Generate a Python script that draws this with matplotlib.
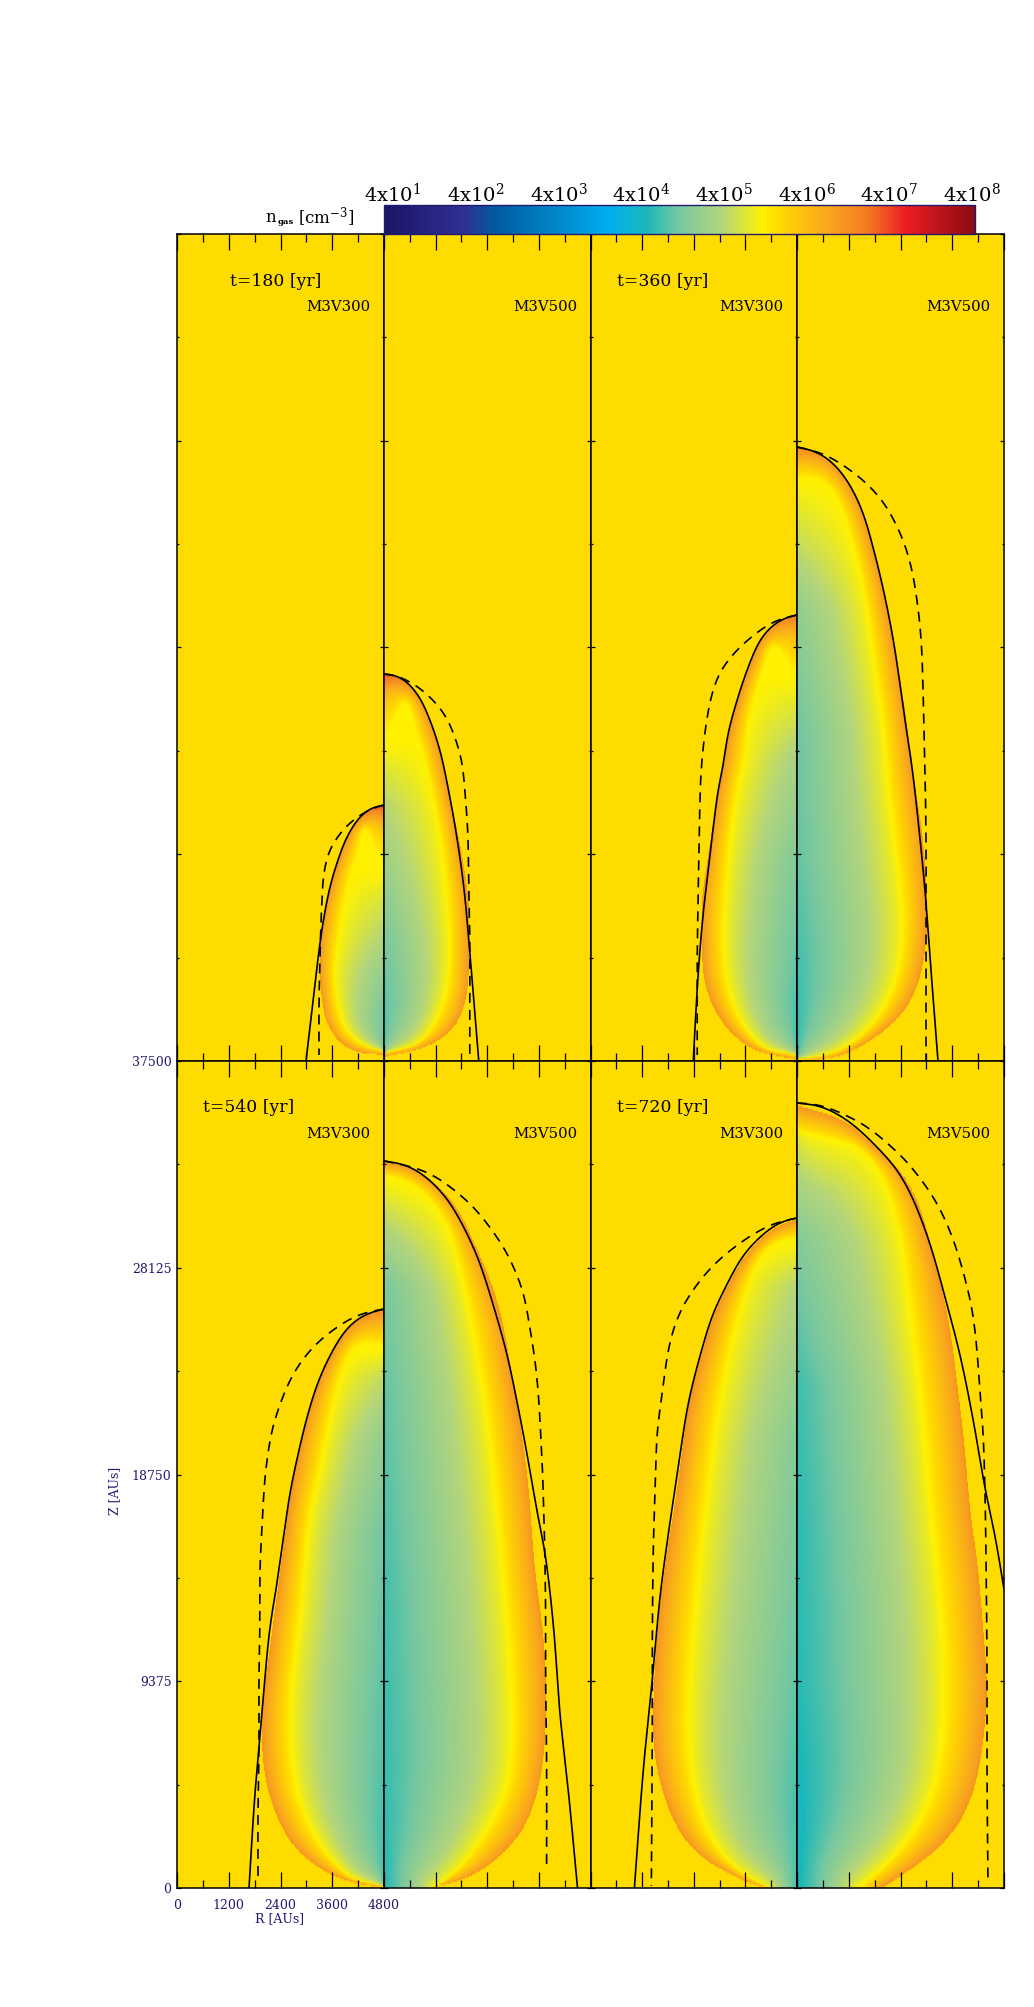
"""
Densite du gaz autour du jet : 4 epoques, 2 modeles par epoque (M3V300 / M3V500)
Chaque demi-panneau : carte de log n + choc analytique (trait plein) + tirets
"""

import numpy as np
import matplotlib
matplotlib.use("Agg")
import matplotlib.pyplot as plt

from matplotlib.cm import ScalarMappable
from matplotlib.colors import LinearSegmentedColormap, Normalize
from matplotlib.path import Path as MplPath
from matplotlib.ticker import FixedFormatter, FixedLocator, NullFormatter

# ---------------------------------------------------------------- config
W, H = 1034, 2007
X_EDGES = [177, 384, 590.5, 797, 1004]
Y_EDGES = [234, 1061, 1888]
R_MAX = 4800.0
Z_MAX = 37500.0
CELL_R = R_MAX / 207.0  # AU par cellule de grille
CELL_Z = Z_MAX / 827.0
NAVY = "#1f1a6e"

plt.rcParams["font.family"] = ["DejaVu Serif"]
plt.rcParams["mathtext.fontset"] = "dejavuserif"

# ---------------------------------------------------------------- palette
CMAP_POS = [0.0, 0.134, 0.19, 0.382, 0.445, 0.50, 0.574, 0.641, 0.67, 0.755, 0.817, 0.885, 1.0]
CMAP_COL = ["#1b1464", "#2e3192", "#005b9f", "#00aeef", "#1cb8b8", "#78c8a0", "#b5d67a",
            "#fff200", "#ffd800", "#f9a51f", "#f47b20", "#ed1c24", "#8a0b10"]
LOG_MIN, LOG_MAX = np.log10(4e1), np.log10(4e8)
LOG_AMBIENT = 6.257
LOG_RIDGE = 6.09
LOG_EDGE = 7.05

CB_TICKS = [1, 2, 3, 4, 5, 6, 7, 8]
CB_LABEL_X = [393, 476, 559, 641, 724, 807, 889, 972]

# ---------------------------------------------------------------- courbes (cellules de grille)
# t=180, M3V300
a_solid_r = [0, 12, 24, 37, 47, 54, 60, 64, 70, 78]
a_solid_z = [256, 253, 244, 224, 198, 174, 144, 118, 68, 0]
a_dash_r = [0, 7, 22, 40, 54, 60, 62, 63, 64, 65, 65]
a_dash_z = [256, 254, 247, 232, 211, 188, 161, 138, 104, 54, 6]
a_outer_r = [0, 12, 24, 37, 47, 54, 59, 63, 64, 62, 57, 45, 27, 0]
a_outer_z = [255, 252, 243, 223, 197, 173, 154, 128, 94, 61, 38, 19, 9, 6]
a_ridge_r = [0, 8, 19, 25, 35, 45, 49, 45, 37, 20, 0]
a_ridge_z = [191, 208, 231, 211, 178, 124, 88, 54, 31, 16, 10]
a_axis_z = [10, 54, 88, 121, 154, 191]
a_axis_n = [4.95, 5.12, 5.32, 5.58, 5.8, 6.09]

# t=180, M3V500
b_solid_r = [0, 11, 23, 36, 46, 56, 66, 73, 80, 85, 90, 95]
b_solid_z = [387, 386, 379, 363, 341, 311, 264, 224, 174, 121, 61, 0]
b_dash_r = [0, 10, 28, 46, 61, 71, 78, 81, 84, 85, 86, 86, 86]
b_dash_z = [387, 386, 378, 364, 346, 324, 299, 271, 228, 174, 121, 54, 4]
b_outer_r = [0, 11, 23, 36, 46, 56, 66, 73, 80, 85, 85, 83, 75, 60, 36, 0]
b_outer_z = [386, 385, 378, 362, 340, 310, 261, 231, 194, 154, 104, 68, 41, 24, 12, 4]
b_ridge_r = [0, 10, 21, 33, 43, 56, 63, 65, 61, 50, 33, 0]
b_ridge_z = [318, 338, 358, 324, 288, 221, 154, 104, 68, 38, 18, 8]
b_axis_z = [8, 54, 121, 188, 254, 288, 318]
b_axis_n = [4.9, 4.95, 5.12, 5.38, 5.62, 5.85, 6.09]

# t=360, M3V300
c_solid_r = [0, 10, 24, 37, 50, 60, 69, 74, 79, 87, 94, 99, 104]
c_solid_z = [446, 444, 436, 421, 391, 361, 328, 296, 271, 208, 148, 88, 0]
c_dash_r = [0, 10, 24, 42, 62, 77, 85, 90, 94, 96, 97, 98, 99, 100, 100, 100]
c_dash_z = [446, 444, 439, 427, 409, 389, 368, 344, 314, 291, 271, 224, 171, 104, 54, 6]
c_outer_r = [0, 10, 24, 37, 50, 60, 69, 80, 89, 96, 96, 94, 85, 70, 44, 0]
c_outer_z = [445, 443, 435, 420, 390, 360, 327, 268, 211, 161, 121, 81, 54, 31, 11, 1]
c_ridge_r = [0, 10, 24, 34, 47, 54, 60, 69, 74, 70, 57, 34, 0]
c_ridge_z = [384, 395, 414, 391, 348, 298, 271, 204, 121, 78, 41, 14, 6]
c_axis_z = [6, 100, 200, 300, 384]
c_axis_n = [4.8, 5.0, 5.15, 5.5, 6.09]

# t=360, M3V500
d_solid_r = [0, 16, 33, 50, 65, 76, 88, 98, 106, 115, 120, 128, 133, 141]
d_solid_z = [614, 611, 601, 581, 551, 514, 464, 411, 354, 294, 251, 171, 104, 0]
d_dash_r = [0, 25, 46, 66, 85, 98, 108, 115, 120, 124, 126, 127, 128, 129, 129, 129]
d_dash_z = [614, 608, 596, 581, 561, 539, 516, 491, 461, 424, 374, 331, 294, 221, 138, 1]
d_outer_r = [0, 16, 33, 50, 65, 76, 88, 106, 116, 126, 130, 128, 118, 100, 70, 40, 0]
d_outer_z = [613, 610, 600, 580, 550, 513, 464, 364, 288, 221, 154, 108, 68, 41, 18, 3, 1]
d_ridge_r = [0, 23, 40, 53, 66, 76, 86, 91, 101, 105, 100, 83, 56, 30, 0]
d_ridge_z = [581, 581, 561, 524, 471, 404, 331, 271, 188, 138, 88, 48, 19, 6, 2]
d_axis_z = [2, 80, 200, 330, 450, 520, 581]
d_axis_n = [4.75, 4.85, 5.0, 5.05, 5.3, 5.75, 6.09]

# t=540, M3V300
e_solid_r = [0, 10, 24, 37, 50, 64, 75, 85, 94, 98, 107, 114, 119, 124, 129, 135]
e_solid_z = [579, 577, 571, 560, 540, 511, 478, 438, 395, 368, 305, 261, 211, 151, 95, 0]
e_dash_r = [0, 24, 44, 67, 84, 95, 105, 112, 116, 119, 121, 122, 124, 124, 125, 125, 126, 126]
e_dash_z = [579, 574, 563, 545, 525, 506, 481, 458, 435, 411, 381, 361, 321, 271, 218, 145, 78, 10]
e_outer_r = [0, 10, 24, 37, 50, 64, 75, 85, 92, 100, 109, 117, 122, 120, 110, 90, 57, 24, 0]
e_outer_z = [578, 576, 570, 559, 539, 510, 477, 438, 401, 345, 278, 218, 171, 118, 78, 41, 15, 3, 1]
e_ridge_r = [0, 20, 30, 44, 55, 64, 74, 82, 92, 92, 84, 64, 34, 0]
e_ridge_z = [540, 545, 540, 508, 461, 415, 368, 285, 195, 138, 88, 45, 11, 2]
e_axis_z = [2, 100, 250, 350, 450, 510, 540]
e_axis_n = [4.82, 4.92, 5.0, 5.05, 5.3, 5.7, 6.09]

# t=540, M3V500
f_solid_r = [0, 13, 30, 46, 63, 80, 95, 108, 123, 135, 143, 155, 161, 170, 176, 185, 194]
f_solid_z = [727, 726, 720, 708, 690, 661, 628, 588, 535, 478, 436, 368, 338, 261, 178, 95, 0]
f_dash_r = [0, 33, 53, 73, 91, 106, 120, 130, 140, 146, 151, 155, 157, 159, 160, 161, 162, 162, 163, 163]
f_dash_z = [727, 720, 711, 696, 680, 661, 641, 621, 595, 561, 531, 491, 455, 415, 381, 345, 278, 211, 128, 18]
f_outer_r = [0, 30, 46, 70, 90, 113, 131, 143, 151, 160, 162, 158, 143, 116, 80, 43]
f_outer_z = [726, 720, 708, 685, 645, 588, 495, 415, 318, 245, 178, 118, 65, 31, 8, 0]
f_ridge_r = [0, 23, 43, 63, 76, 90, 103, 110, 120, 126, 128, 120, 96, 70, 50]
f_ridge_z = [711, 706, 691, 661, 615, 548, 465, 401, 295, 211, 151, 95, 48, 15, 0]
f_axis_z = [0, 100, 300, 500, 600, 660, 711]
f_axis_n = [4.72, 4.82, 4.88, 5.0, 5.1, 5.6, 6.09]

# t=720, M3V300
g_solid_r = [0, 14, 34, 54, 70, 84, 97, 109, 117, 127, 137, 145, 154, 163]
g_solid_z = [670, 668, 654, 633, 604, 575, 533, 485, 435, 368, 294, 209, 119, 0]
g_dash_r = [0, 20, 44, 64, 84, 100, 114, 124, 130, 135, 140, 142, 144, 145, 145, 146]
g_dash_z = [670, 666, 654, 640, 623, 604, 583, 559, 533, 495, 458, 405, 342, 252, 172, 2]
g_outer_r = [0, 14, 34, 54, 70, 84, 97, 109, 117, 124, 132, 140, 144, 144, 135, 120, 97, 70, 40, 30]
g_outer_z = [668, 666, 652, 631, 602, 573, 531, 485, 427, 378, 328, 261, 201, 138, 95, 58, 31, 15, 1, 0]
g_ridge_r = [0, 20, 37, 52, 67, 80, 92, 99, 105, 109, 102, 87, 64, 29]
g_ridge_z = [649, 646, 631, 596, 538, 469, 378, 311, 245, 161, 95, 51, 21, 0]
g_axis_z = [0, 100, 200, 450, 600, 649]
g_axis_n = [4.85, 4.9, 5.0, 5.2, 5.6, 6.09]

# t=720, M3V500
h_solid_r = [0, 23, 50, 76, 100, 116, 133, 148, 163, 176, 188, 198, 207]
h_solid_z = [785, 782, 768, 745, 718, 689, 644, 591, 533, 469, 400, 352, 299]
h_dash_r = [0, 23, 46, 70, 90, 106, 123, 136, 148, 158, 166, 175, 180, 183, 186, 188, 189, 190, 190, 191]
h_dash_z = [785, 784, 774, 762, 745, 731, 710, 692, 669, 644, 617, 580, 538, 495, 458, 395, 331, 225, 119, 5]
h_outer_r = [0, 50, 76, 103, 123, 136, 151, 160, 168, 173, 180, 186, 190, 186, 178, 163, 140, 113, 86]
h_outer_z = [782, 766, 742, 718, 681, 633, 570, 506, 437, 378, 328, 261, 201, 145, 101, 65, 38, 18, 0]
h_ridge_r = [0, 36, 63, 86, 103, 113, 123, 133, 140, 145, 145, 136, 116, 90, 60]
h_ridge_z = [755, 747, 739, 707, 649, 570, 490, 378, 311, 245, 161, 101, 58, 25, 0]
h_axis_z = [0, 60, 200, 370, 500, 650, 700, 755]
h_axis_n = [4.65, 4.62, 4.75, 4.78, 4.85, 5.2, 5.5, 5.9]

# renforcement de densite a l'apex : log n au sommet, hauteur de la zone (cellules)
tip_log = [7.6, 7.6, 7.35, 7.25, 7.15, 7.05, 7.05, 7.05]
tip_depth = [70, 70, 60, 60, 40, 40, 40, 40]
TIP_WIDTH = 28.0
# lissage du pic : faible la ou il forme un chevron
ridge_sigma = [2, 2, 3, 9, 7, 10, 10, 10]

TIMES = ["t=180 [yr]", "t=360 [yr]", "t=540 [yr]", "t=720 [yr]"]
TIME_LABEL_X = [230, 617, 203, 617]
MODELS = ["M3V300", "M3V500"]

panels = [
    (a_solid_r, a_solid_z, a_dash_r, a_dash_z, a_outer_r, a_outer_z, a_ridge_r, a_ridge_z, a_axis_z, a_axis_n),
    (b_solid_r, b_solid_z, b_dash_r, b_dash_z, b_outer_r, b_outer_z, b_ridge_r, b_ridge_z, b_axis_z, b_axis_n),
    (c_solid_r, c_solid_z, c_dash_r, c_dash_z, c_outer_r, c_outer_z, c_ridge_r, c_ridge_z, c_axis_z, c_axis_n),
    (d_solid_r, d_solid_z, d_dash_r, d_dash_z, d_outer_r, d_outer_z, d_ridge_r, d_ridge_z, d_axis_z, d_axis_n),
    (e_solid_r, e_solid_z, e_dash_r, e_dash_z, e_outer_r, e_outer_z, e_ridge_r, e_ridge_z, e_axis_z, e_axis_n),
    (f_solid_r, f_solid_z, f_dash_r, f_dash_z, f_outer_r, f_outer_z, f_ridge_r, f_ridge_z, f_axis_z, f_axis_n),
    (g_solid_r, g_solid_z, g_dash_r, g_dash_z, g_outer_r, g_outer_z, g_ridge_r, g_ridge_z, g_axis_z, g_axis_n),
    (h_solid_r, h_solid_z, h_dash_r, h_dash_z, h_outer_r, h_outer_z, h_ridge_r, h_ridge_z, h_axis_z, h_axis_n),
]


# ---------------------------------------------------------------- geometrie
def spline(r, z, n=8):
    """Catmull-Rom centripete passant par les points lus."""
    p = np.column_stack([r, z]).astype(float)
    p = np.vstack([2 * p[0] - p[1], p, 2 * p[-1] - p[-2]])
    out = [p[1:2]]
    for i in range(1, len(p) - 2):
        p0, p1, p2, p3 = p[i - 1], p[i], p[i + 1], p[i + 2]
        t1 = np.linalg.norm(p1 - p0) ** 0.5
        t2 = t1 + np.linalg.norm(p2 - p1) ** 0.5
        t3 = t2 + np.linalg.norm(p3 - p2) ** 0.5
        t = np.linspace(t1, t2, n + 1)[1:][:, None]
        a1 = (t1 - t) / t1 * p0 + t / t1 * p1
        a2 = (t2 - t) / (t2 - t1) * p1 + (t - t1) / (t2 - t1) * p2
        a3 = (t3 - t) / (t3 - t2) * p2 + (t - t2) / (t3 - t2) * p3
        b1 = (t2 - t) / t2 * a1 + t / t2 * a2
        b2 = (t3 - t) / (t3 - t1) * a2 + (t - t1) / (t3 - t1) * a3
        out.append((t2 - t) / (t2 - t1) * b1 + (t - t1) / (t2 - t1) * b2)
    return np.vstack(out)


def smooth(r, z, sigma=None):
    """Spline puis filtre gaussien le long de l'arc, extremites conservees."""
    p = spline(r, z)
    s = np.r_[0, np.cumsum(np.hypot(*np.diff(p, axis=0).T))]
    t = np.r_[np.arange(0, s[-1], 1.0), s[-1]]
    line = np.column_stack([np.interp(t, s, p[:, 0]), np.interp(t, s, p[:, 1])])
    if sigma is None:
        sigma = 0.016 * s[-1]  # proportionnel a la taille du lobe

    half = min(int(3 * sigma) + 1, len(line) - 2)
    kernel = np.exp(-0.5 * (np.arange(-half, half + 1) / sigma) ** 2)
    kernel /= kernel.sum()
    head = 2 * line[0] - line[half:0:-1]
    tail = 2 * line[-1] - line[-2:-half - 2:-1]
    padded = np.vstack([head, line, tail])
    return np.column_stack([np.convolve(padded[:, i], kernel, mode="valid") for i in range(2)])


def closed_on_axis(curve):
    """Ferme la courbe le long de l'axe (et de la base si elle y arrive)."""
    foot_z = 0.0 if curve[-1, 0] > 1 else curve[-1, 1]
    return np.vstack([curve, [[0.0, foot_z]], [[0.0, curve[0, 1]]]])


def dist_to(points, curve):
    d = np.empty(len(points))
    for i in range(0, len(points), 4000):
        chunk = points[i:i + 4000]
        dx = chunk[:, 0, None] - curve[:, 0]
        dy = chunk[:, 1, None] - curve[:, 1]
        d[i:i + 4000] = np.sqrt((dx ** 2 + dy ** 2).min(axis=1))
    return d


def density_map(outer_r, outer_z, ridge_r, ridge_z, axis_z, axis_n, tip, depth, sigma):
    """Carte de log n : pic (ridge), coquille vers l'exterieur, creux vers l'axe."""
    rc = np.arange(0.5, 207, 1.0)
    zc = np.arange(0.5, 827, 1.5)
    rr, zz = np.meshgrid(rc, zc)
    pts = np.column_stack([rr.ravel(), zz.ravel()])
    field = np.full(len(pts), LOG_AMBIENT)

    outer = smooth(outer_r, outer_z)
    ridge = smooth(ridge_r, ridge_z, sigma=sigma)
    in_outer = MplPath(closed_on_axis(outer)).contains_points(pts)
    in_ridge = MplPath(closed_on_axis(ridge)).contains_points(pts) & in_outer
    shell = in_outer & ~in_ridge

    # coquille entre le pic et le bord du choc
    p = pts[shell]
    d_r, d_o = dist_to(p, ridge), dist_to(p, outer)
    top = outer_z[0]
    boost = np.clip((p[:, 1] - (top - depth)) / depth, 0, 1) * np.clip(1 - p[:, 0] / TIP_WIDTH, 0, 1)
    edge = LOG_EDGE + (tip - LOG_EDGE) * boost
    field[shell] = LOG_RIDGE + (edge - LOG_RIDGE) * (d_r / (d_r + d_o + 1e-6)) ** 1.1

    # cavite : du pic jusqu'a la valeur sur l'axe
    p = pts[in_ridge]
    d_r = dist_to(p, ridge)
    on_axis = np.interp(p[:, 1], axis_z, axis_n)
    field[in_ridge] = LOG_RIDGE + (on_axis - LOG_RIDGE) * (d_r / (d_r + p[:, 0] + 1e-6)) ** 0.75
    return field.reshape(rr.shape)


# ---------------------------------------------------------------- trace
def setup_axes(ax):
    ax.set_xlim(0, R_MAX)
    ax.set_ylim(0, Z_MAX)
    ax.xaxis.set_major_locator(FixedLocator([0, 1200, 2400, 3600, 4800]))
    ax.xaxis.set_minor_locator(FixedLocator([600, 1800, 3000, 4200]))
    ax.yaxis.set_major_locator(FixedLocator([0, 9375, 18750, 28125, 37500]))
    ax.yaxis.set_minor_locator(FixedLocator([4687.5, 14062.5, 23437.5, 32812.5]))
    ax.tick_params(which="major", axis="x", direction="in", top=True, bottom=True, length=11.5, width=0.9)
    ax.tick_params(which="minor", axis="x", direction="in", top=True, bottom=True, length=5.8, width=0.9)
    ax.tick_params(which="major", axis="y", direction="in", left=True, right=True, length=3.1, width=0.9)
    ax.tick_params(which="minor", axis="y", direction="in", left=True, right=True, length=1.5, width=0.9)
    ax.xaxis.set_major_formatter(NullFormatter())
    ax.yaxis.set_major_formatter(NullFormatter())
    for spine in ax.spines.values():
        spine.set_linewidth(1.1)


def main():
    cmap = LinearSegmentedColormap.from_list("ngas", list(zip(CMAP_POS, CMAP_COL)), N=512)
    norm = Normalize(LOG_MIN, LOG_MAX)
    fig = plt.figure(figsize=(W / 100, H / 100), dpi=100)

    for k, curves in enumerate(panels):
        solid_r, solid_z, dash_r, dash_z, outer_r, outer_z, ridge_r, ridge_z, axis_z, axis_n = curves
        row, col = k // 4, k % 4
        x0, x1 = X_EDGES[col], X_EDGES[col + 1]
        y0, y1 = Y_EDGES[row], Y_EDGES[row + 1]
        ax = fig.add_axes([x0 / W, 1 - y1 / H, (x1 - x0) / W, (y1 - y0) / H])
        setup_axes(ax)
        mirror = col % 2 == 0

        field = density_map(outer_r, outer_z, ridge_r, ridge_z, axis_z, axis_n,
                            tip_log[k], tip_depth[k], ridge_sigma[k])
        if mirror:
            field = field[:, ::-1]
        ax.imshow(field, origin="lower", extent=[0, R_MAX, 0, Z_MAX], aspect="auto",
                  cmap=cmap, norm=norm, interpolation="bilinear", zorder=0)

        for r, z, style in [(solid_r, solid_z, "-"), (dash_r, dash_z, (0, (6, 4.2)))]:
            pts = smooth(r, z)
            x = R_MAX - pts[:, 0] * CELL_R if mirror else pts[:, 0] * CELL_R
            ax.plot(x, pts[:, 1] * CELL_Z, color="black", lw=1.2, ls=style, zorder=3)

        fig.text((x1 - 13.5) / W, 1 - (y0 + 73) / H, MODELS[col % 2], ha="right", va="center",
                 fontsize=10.7, color="black")
        if mirror:
            idx = row * 2 + col // 2
            fig.text(TIME_LABEL_X[idx] / W, 1 - (y0 + 47) / H, TIMES[idx],
                     ha="left", va="center", fontsize=12.4, color="black")

        if k == 4:
            ax.xaxis.set_major_formatter(FixedFormatter(["0", "1200", "2400", "3600", "4800"]))
            ax.yaxis.set_major_formatter(FixedFormatter(["0", "9375", "18750", "28125", "37500"]))
            ax.tick_params(axis="both", which="major", labelsize=9, labelcolor=NAVY)
            ax.tick_params(axis="x", which="major", pad=8)
            ax.tick_params(axis="y", which="major", pad=4)

    fig.text(280 / W, 1 - 1919 / H, "R [AUs]", ha="center", va="center", fontsize=9, color=NAVY)
    fig.text(115 / W, 1 - 1491 / H, "Z [AUs]", ha="center", va="center", fontsize=9, color=NAVY, rotation=90)

    # barre de couleur au-dessus des panneaux de droite
    cax = fig.add_axes([384 / W, 1 - 234 / H, 591 / W, 29 / H])
    cb = fig.colorbar(ScalarMappable(norm=norm, cmap=cmap), cax=cax, orientation="horizontal")
    cb.set_ticks([])
    cb.outline.set_edgecolor(NAVY)
    cb.outline.set_linewidth(1.0)
    for power, lx in zip(CB_TICKS, CB_LABEL_X):
        fig.text(lx / W, 1 - 194 / H, f"4x10$^{{{power}}}$", ha="center", va="center", fontsize=14, color="black")
    fig.text(265 / W, 1 - 217 / H, "n", ha="left", va="center", fontsize=12, color="black")
    fig.text(278 / W, 1 - 222 / H, "gas", ha="left", va="center", fontsize=6, color="black", fontweight="bold")
    fig.text(298 / W, 1 - 217 / H, "[cm$^{-3}$]", ha="left", va="center", fontsize=12, color="black")

    fig.savefig("out.png", dpi=100, facecolor="white")
    plt.close(fig)


if __name__ == "__main__":
    main()
